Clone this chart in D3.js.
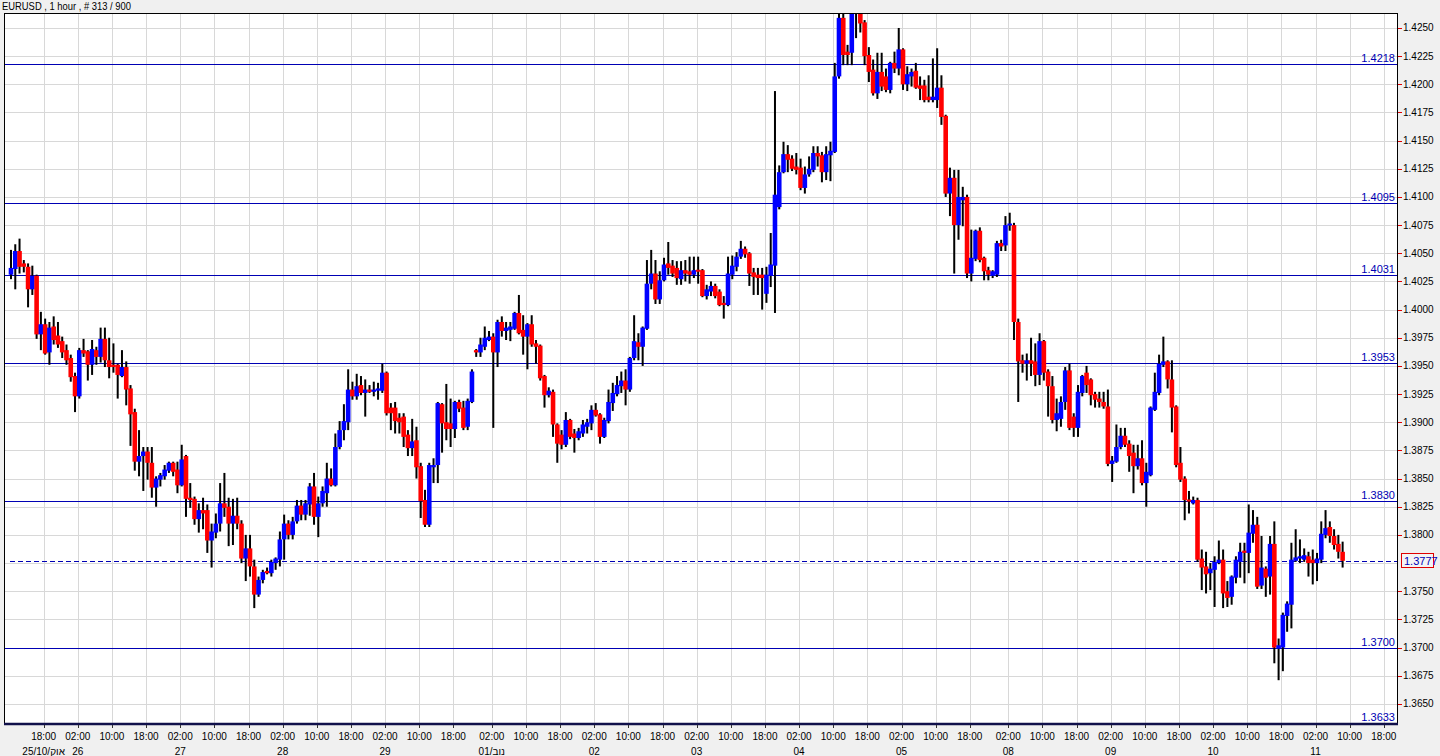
<!DOCTYPE html>
<html><head><meta charset="utf-8">
<script src="https://cdn.jsdelivr.net/npm/d3@7"></script>
<style>body{margin:0;background:#f0f0f0;overflow:hidden}svg{display:block}</style>
</head><body><svg id="c" width="1440" height="756"></svg>
<script>
// ---- DATA (hourly bars, EURUSD) ----
const opens=[1.4031,1.4036,1.4052,1.4041,1.4038,1.4018,1.4030,1.3978,1.3987,1.3962,1.3985,1.3977,1.3972,1.3964,1.3957,1.3941,1.3923,1.3964,1.3963,1.3951,1.3964,1.3958,1.3974,1.3955,1.3951,1.3951,1.3941,1.3949,1.3930,1.3909,1.3865,1.3870,1.3874,1.3864,1.3842,1.3849,1.3852,1.3857,1.3864,1.3858,1.3844,1.3870,1.3833,1.3832,1.3814,1.3822,1.3822,1.3795,1.3802,1.3810,1.3828,1.3825,1.3810,1.3817,1.3810,1.3779,1.3788,1.3772,1.3747,1.3760,1.3768,1.3766,1.3775,1.3778,1.3796,1.3810,1.3800,1.3812,1.3826,1.3818,1.3827,1.3843,1.3816,1.3828,1.3837,1.3850,1.3844,1.3878,1.3893,1.3900,1.3929,1.3923,1.3933,1.3926,1.3929,1.3927,1.3928,1.3928,1.3944,1.3913,1.3913,1.3904,1.3905,1.3889,1.3877,1.3884,1.3861,1.3831,1.3809,1.3860,1.3862,1.3916,1.3900,1.3899,1.3894,1.3918,1.3913,1.3896,1.3918,1.3964,1.3962,1.3967,1.3973,1.3976,1.3962,1.3989,1.3981,1.3982,1.3983,1.3997,1.3982,1.3976,1.3987,1.3970,1.3968,1.3941,1.3924,1.3927,1.3898,1.3889,1.3880,1.3902,1.3890,1.3886,1.3890,1.3896,1.3899,1.3911,1.3907,1.3887,1.3901,1.3917,1.3925,1.3932,1.3937,1.3929,1.3957,1.3971,1.3967,1.3983,1.4023,1.4032,1.4009,1.4026,1.4041,1.4039,1.4037,1.4027,1.4035,1.4034,1.4031,1.4035,1.4035,1.4012,1.4016,1.4021,1.4016,1.4006,1.4004,1.4031,1.4038,1.4047,1.4054,1.4050,1.4033,1.4031,1.4031,1.4014,1.4030,1.4039,1.4091,1.4122,1.4138,1.4134,1.4127,1.4126,1.4108,1.4120,1.4124,1.4139,1.4137,1.4122,1.4137,1.4140,1.4207,1.4259,1.4229,1.4228,1.4270,1.4274,1.4255,1.4226,1.4213,1.4192,1.4211,1.4207,1.4195,1.4219,1.4214,1.4231,1.4200,1.4207,1.4212,1.4199,1.4199,1.4189,1.4186,1.4186,1.4197,1.4172,1.4103,1.4117,1.4075,1.4097,1.4100,1.4032,1.4045,1.4070,1.4046,1.4035,1.4030,1.4031,1.4059,1.4057,1.4075,1.4075,1.3989,1.3955,1.3952,1.3955,1.3954,1.3942,1.3972,1.3945,1.3932,1.3902,1.3903,1.3918,1.3946,1.3905,1.3895,1.3926,1.3944,1.3938,1.3925,1.3921,1.3918,1.3914,1.3863,1.3865,1.3878,1.3888,1.3881,1.3873,1.3861,1.3868,1.3846,1.3853,1.3911,1.3926,1.3951,1.3954,1.3938,1.3914,1.3864,1.3850,1.3831,1.3828,1.3831,1.3779,1.3772,1.3766,1.3769,1.3775,1.3778,1.3750,1.3745,1.3762,1.3776,1.3786,1.3784,1.3801,1.3809,1.3755,1.3770,1.3763,1.3792,1.3699,1.3700,1.3728,1.3738,1.3777,1.3779,1.3778,1.3781,1.3778,1.3775,1.3778,1.3800,1.3807,1.3799,1.3792,1.3785];
const highs=[1.4053,1.4058,1.4063,1.4044,1.4041,1.4039,1.4031,1.3998,1.3992,1.3989,1.3994,1.3989,1.3976,1.3969,1.3960,1.3944,1.3966,1.3974,1.3964,1.3973,1.3967,1.3984,1.3984,1.3975,1.3970,1.3952,1.3964,1.3954,1.3933,1.3912,1.3893,1.3878,1.3878,1.3878,1.3852,1.3855,1.3862,1.3865,1.3865,1.3865,1.3880,1.3871,1.3846,1.3834,1.3828,1.3833,1.3827,1.3810,1.3819,1.3846,1.3855,1.3833,1.3832,1.3833,1.3813,1.3800,1.3800,1.3778,1.3763,1.3769,1.3771,1.3778,1.3780,1.3803,1.3818,1.3813,1.3816,1.3831,1.3831,1.3831,1.3846,1.3855,1.3834,1.3843,1.3864,1.3859,1.3890,1.3901,1.3916,1.3947,1.3936,1.3943,1.3941,1.3938,1.3933,1.3936,1.3935,1.3952,1.3945,1.3917,1.3918,1.3908,1.3908,1.3893,1.3903,1.3896,1.3864,1.3840,1.3864,1.3868,1.3918,1.3917,1.3934,1.3921,1.3919,1.3920,1.3919,1.3921,1.3947,1.3965,1.3975,1.3985,1.3981,1.3979,1.3991,1.3994,1.3989,1.3989,1.3998,1.4013,1.3995,1.3988,1.3995,1.3973,1.3969,1.3942,1.3931,1.3929,1.3899,1.3893,1.3909,1.3903,1.3894,1.3895,1.3902,1.3903,1.3915,1.3917,1.3908,1.3904,1.3929,1.3935,1.3941,1.3945,1.3947,1.3958,1.3995,1.3979,1.3985,1.4044,1.4053,1.4044,1.4034,1.4046,1.4060,1.4044,1.4043,1.4043,1.4044,1.4047,1.4047,1.4047,1.4036,1.4022,1.4025,1.4023,1.4018,1.4012,1.4047,1.4048,1.4051,1.4061,1.4056,1.4051,1.4037,1.4037,1.4037,1.4038,1.4068,1.4194,1.4128,1.4149,1.4146,1.4137,1.4139,1.4134,1.4127,1.4136,1.4145,1.4145,1.4140,1.4145,1.4149,1.4219,1.4270,1.4268,1.4235,1.4281,1.4282,1.4280,1.4257,1.4233,1.4222,1.4228,1.4228,1.4214,1.4220,1.4229,1.4250,1.4232,1.4216,1.4214,1.4219,1.4207,1.4204,1.4208,1.4223,1.4232,1.4208,1.4173,1.4126,1.4124,1.4124,1.4109,1.4102,1.4071,1.4071,1.4073,1.4047,1.4038,1.4035,1.4061,1.4062,1.4083,1.4086,1.4077,1.3992,1.3960,1.3961,1.3975,1.3970,1.3979,1.3973,1.3947,1.3941,1.3921,1.3923,1.3949,1.3952,1.3908,1.3933,1.3942,1.3950,1.3939,1.3927,1.3927,1.3927,1.3929,1.3870,1.3898,1.3895,1.3895,1.3884,1.3880,1.3880,1.3884,1.3864,1.3914,1.3944,1.3960,1.3976,1.3955,1.3955,1.3915,1.3878,1.3852,1.3839,1.3834,1.3833,1.3787,1.3785,1.3775,1.3781,1.3795,1.3787,1.3759,1.3764,1.3781,1.3793,1.3793,1.3827,1.3822,1.3816,1.3799,1.3772,1.3799,1.3812,1.3708,1.3731,1.3741,1.3793,1.3805,1.3796,1.3788,1.3785,1.3787,1.3784,1.3812,1.3822,1.3812,1.3805,1.3800,1.3794];
const lows=[1.4027,1.4018,1.4032,1.4033,1.4002,1.4013,1.3974,1.3964,1.3960,1.3951,1.3969,1.3966,1.3957,1.3951,1.3936,1.3909,1.3921,1.3958,1.3937,1.3942,1.3951,1.3953,1.3949,1.3939,1.3944,1.3921,1.3940,1.3915,1.3879,1.3857,1.3852,1.3839,1.3849,1.3833,1.3825,1.3843,1.3849,1.3855,1.3852,1.3837,1.3843,1.3816,1.3824,1.3809,1.3802,1.3805,1.3784,1.3771,1.3797,1.3803,1.3816,1.3790,1.3791,1.3805,1.3775,1.3759,1.3763,1.3735,1.3745,1.3757,1.3765,1.3763,1.3769,1.3772,1.3778,1.3796,1.3796,1.3810,1.3813,1.3813,1.3817,1.3809,1.3798,1.3825,1.3825,1.3843,1.3843,1.3876,1.3884,1.3893,1.3920,1.3920,1.3924,1.3905,1.3926,1.3923,1.3920,1.3926,1.3906,1.3893,1.3890,1.3890,1.3878,1.3870,1.3870,1.3850,1.3815,1.3807,1.3807,1.3846,1.3846,1.3873,1.3884,1.3878,1.3886,1.3909,1.3893,1.3893,1.3917,1.3958,1.3958,1.3964,1.3972,1.3895,1.3949,1.3976,1.3973,1.3972,1.3982,1.3978,1.3960,1.3947,1.3967,1.3952,1.3937,1.3913,1.3922,1.3887,1.3864,1.3876,1.3878,1.3885,1.3873,1.3884,1.3887,1.3890,1.3893,1.3905,1.3881,1.3886,1.3899,1.3910,1.3923,1.3926,1.3915,1.3927,1.3955,1.3955,1.3950,1.3982,1.4018,1.4005,1.4005,1.4025,1.4031,1.4029,1.4022,1.4022,1.4025,1.4023,1.4028,1.4023,1.4011,1.4009,1.4012,1.4010,1.4003,1.3992,1.4003,1.4027,1.4034,1.4045,1.4046,1.4021,1.4013,1.4013,1.4000,1.4006,1.4020,1.3997,1.4089,1.4121,1.4122,1.4123,1.4120,1.4106,1.4103,1.4118,1.4122,1.4127,1.4113,1.4115,1.4114,1.4139,1.4205,1.4217,1.4217,1.4217,1.4241,1.4246,1.4217,1.4202,1.4190,1.4187,1.4194,1.4193,1.4192,1.4210,1.4208,1.4195,1.4194,1.4198,1.4196,1.4186,1.4184,1.4184,1.4184,1.4179,1.4164,1.4100,1.4083,1.4032,1.4062,1.4074,1.4028,1.4025,1.4043,1.4042,1.4026,1.4026,1.4028,1.4029,1.4052,1.4052,1.4070,1.3973,1.3918,1.3944,1.3937,1.3941,1.3932,1.3933,1.3937,1.3905,1.3899,1.3892,1.3896,1.3911,1.3893,1.3887,1.3887,1.3923,1.3926,1.3915,1.3913,1.3913,1.3912,1.3861,1.3847,1.3864,1.3876,1.3878,1.3856,1.3837,1.3858,1.3844,1.3825,1.3852,1.3910,1.3924,1.3949,1.3930,1.3891,1.3860,1.3847,1.3813,1.3819,1.3827,1.3776,1.3751,1.3748,1.3751,1.3736,1.3774,1.3735,1.3736,1.3738,1.3757,1.3762,1.3757,1.3766,1.3793,1.3752,1.3752,1.3745,1.3747,1.3686,1.3671,1.3679,1.3714,1.3717,1.3776,1.3775,1.3776,1.3763,1.3756,1.3759,1.3775,1.3797,1.3793,1.3787,1.3779,1.3771];
const closes=[1.4037,1.4052,1.4038,1.4038,1.4018,1.4030,1.3978,1.3987,1.3961,1.3984,1.3973,1.3969,1.3962,1.3955,1.3940,1.3923,1.3964,1.3961,1.3951,1.3965,1.3958,1.3974,1.3955,1.3949,1.3949,1.3942,1.3949,1.3929,1.3907,1.3865,1.3870,1.3874,1.3864,1.3842,1.3850,1.3853,1.3858,1.3864,1.3856,1.3844,1.3867,1.3832,1.3831,1.3814,1.3822,1.3819,1.3795,1.3803,1.3810,1.3828,1.3824,1.3810,1.3817,1.3810,1.3779,1.3788,1.3772,1.3747,1.3760,1.3767,1.3766,1.3776,1.3779,1.3796,1.3810,1.3800,1.3812,1.3826,1.3818,1.3828,1.3843,1.3816,1.3828,1.3839,1.3850,1.3844,1.3878,1.3893,1.3901,1.3929,1.3923,1.3932,1.3926,1.3929,1.3927,1.3929,1.3930,1.3944,1.3908,1.3908,1.3901,1.3900,1.3887,1.3877,1.3883,1.3860,1.3830,1.3809,1.3862,1.3862,1.3917,1.3899,1.3894,1.3894,1.3918,1.3912,1.3895,1.3919,1.3945,1.3962,1.3969,1.3975,1.3976,1.3962,1.3989,1.3981,1.3984,1.3985,1.3997,1.3979,1.3976,1.3987,1.3969,1.3967,1.3939,1.3924,1.3928,1.3898,1.3881,1.3880,1.3902,1.3887,1.3886,1.3892,1.3898,1.3900,1.3911,1.3906,1.3887,1.3902,1.3918,1.3926,1.3933,1.3937,1.3929,1.3957,1.3972,1.3967,1.3984,1.4023,1.4032,1.4009,1.4026,1.4040,1.4037,1.4032,1.4028,1.4035,1.4032,1.4031,1.4035,1.4034,1.4012,1.4018,1.4021,1.4012,1.4004,1.4004,1.4032,1.4039,1.4047,1.4054,1.4049,1.4032,1.4029,1.4028,1.4028,1.4031,1.4040,1.4102,1.4122,1.4138,1.4133,1.4125,1.4124,1.4108,1.4120,1.4125,1.4139,1.4136,1.4122,1.4138,1.4141,1.4207,1.4259,1.4226,1.4226,1.4270,1.4274,1.4254,1.4225,1.4211,1.4192,1.4211,1.4198,1.4195,1.4219,1.4214,1.4231,1.4200,1.4209,1.4211,1.4197,1.4196,1.4186,1.4186,1.4189,1.4197,1.4171,1.4103,1.4117,1.4075,1.4100,1.4100,1.4032,1.4046,1.4070,1.4044,1.4034,1.4031,1.4034,1.4059,1.4056,1.4075,1.4076,1.3989,1.3954,1.3952,1.3955,1.3952,1.3942,1.3972,1.3944,1.3932,1.3902,1.3908,1.3918,1.3946,1.3895,1.3895,1.3927,1.3941,1.3933,1.3924,1.3920,1.3918,1.3914,1.3863,1.3866,1.3878,1.3888,1.3880,1.3870,1.3861,1.3868,1.3846,1.3856,1.3913,1.3927,1.3952,1.3954,1.3938,1.3913,1.3862,1.3849,1.3831,1.3830,1.3831,1.3778,1.3771,1.3765,1.3770,1.3776,1.3778,1.3748,1.3744,1.3763,1.3778,1.3785,1.3784,1.3802,1.3809,1.3754,1.3771,1.3762,1.3792,1.3700,1.3702,1.3729,1.3739,1.3778,1.3780,1.3781,1.3782,1.3775,1.3775,1.3779,1.3801,1.3806,1.3799,1.3791,1.3785,1.3777];
const levels=[1.4218,1.4095,1.4031,1.3953,1.3830,1.3700,1.3633];
const lastPrice=1.3777;
const priceTicks=[1.3650,1.3675,1.3700,1.3725,1.3750,1.3775,1.3800,1.3825,1.3850,1.3875,1.3900,1.3925,1.3950,1.3975,1.4000,1.4025,1.4050,1.4075,1.4100,1.4125,1.4150,1.4175,1.4200,1.4225,1.4250];
const timeSlots=[8,16,24,32,40,48,56,64,72,80,88,96,104,113,121,129,137,145,153,161,169,177,185,193,201,209,217,225,234,242,250,258,266,274,282,290,298,306,314,322];
const timeLabels=["18:00","02:00","10:00","18:00","02:00","10:00","18:00","02:00","10:00","18:00","02:00","10:00","18:00","02:00","10:00","18:00","02:00","10:00","18:00","02:00","10:00","18:00","02:00","10:00","18:00","02:00","10:00","18:00","02:00","10:00","18:00","02:00","10:00","18:00","02:00","10:00","18:00","02:00","10:00","18:00"];
const daySlots=[8,16,40,64,88,113,137,161,185,209,234,258,282,306];
const dayLabels=["25/10/\u200Eאוק","26","27","28","29","01/\u200Eנוב","02","03","04","05","08","09","10","11"];
const title="EURUSD , 1 hour , # 313 / 900";

// ---- LAYOUT ----
const L=4,R=1397,T=13,B=723;
const svg=d3.select("#c");
const font="Liberation Sans, Arial, sans-serif";
const x=d3.scaleLinear().domain([0,322]).range([9.5,1383.8]);
const y=d3.scaleLinear().domain([1.3633,1.42633]).range([B,T]);
const navy="#0000b4";

svg.append("rect").attr("width",1440).attr("height",756).attr("fill","#f0f0f0");
svg.append("rect").attr("x",L).attr("y",T).attr("width",R-L).attr("height",B-T).attr("fill","#fff");

// grid
const g=svg.append("g").attr("stroke","#d8d8d8").attr("stroke-width",1).attr("shape-rendering","crispEdges");
g.selectAll("line.v").data(timeSlots).join("line").attr("class","v")
 .attr("x1",d=>Math.round(x(d))+0.5).attr("x2",d=>Math.round(x(d))+0.5).attr("y1",T).attr("y2",B);
g.selectAll("line.h").data(priceTicks).join("line").attr("class","h")
 .attr("y1",d=>Math.round(y(d))+0.5).attr("y2",d=>Math.round(y(d))+0.5).attr("x1",L).attr("x2",R);

// clip
svg.append("clipPath").attr("id","plot").append("rect").attr("x",L+1).attr("y",T+1).attr("width",R-L-1).attr("height",B-T-1);
const cg=svg.append("g").attr("clip-path","url(#plot)");

// levels
const lvG=cg.append("g").attr("shape-rendering","crispEdges");
lvG.selectAll("line").data(levels).join("line")
 .attr("x1",L).attr("x2",R).attr("y1",d=>Math.round(y(d))+0.5).attr("y2",d=>Math.round(y(d))+0.5)
 .attr("stroke",navy).attr("stroke-width",1);
lvG.append("line").attr("x1",10).attr("x2",R).attr("y1",Math.round(y(lastPrice))+0.5).attr("y2",Math.round(y(lastPrice))+0.5)
 .attr("stroke",navy).attr("stroke-width",1).attr("stroke-dasharray","5,3");

// candles
const idx=d3.range(closes.length);
const off=1.5, bw=4.6;
cg.selectAll("rect.w").data(idx).join("rect").attr("class","w")
 .attr("x",i=>x(i)+off-1).attr("width",2)
 .attr("y",i=>y(highs[i])).attr("height",i=>Math.max(1,y(lows[i])-y(highs[i])))
 .attr("fill","#000");
cg.selectAll("rect.b").data(idx).join("rect").attr("class","b")
 .attr("x",i=>x(i)+off-bw/2).attr("width",bw)
 .attr("y",i=>{const t=y(Math.max(opens[i],closes[i])),h=y(Math.min(opens[i],closes[i]))-t;return h<2?t-(2-h)/2:t;})
 .attr("height",i=>Math.max(2,y(Math.min(opens[i],closes[i]))-y(Math.max(opens[i],closes[i]))))
 .attr("fill",i=>closes[i]>=opens[i]?"#0000ff":"#ff0000");

// level labels
svg.selectAll("text.lv").data(levels).join("text").attr("class","lv")
 .attr("x",R-2).attr("y",d=>Math.round(y(d))-2).attr("text-anchor","end")
 .attr("font-family",font).attr("font-size",11).attr("fill",navy).text(d=>d.toFixed(4));

// border
svg.append("rect").attr("x",L+0.5).attr("y",T+0.5).attr("width",R-L).attr("height",B-T).attr("fill","none").attr("stroke","#000").attr("shape-rendering","crispEdges");
svg.append("line").attr("x1",L).attr("x2",R+1).attr("y1",B+1).attr("y2",B+1).attr("stroke","#10104a").attr("stroke-width",2.5);

// right axis (labels hidden where the last-price box sits)
const ly=Math.round(y(lastPrice));
const shown=priceTicks.filter(d=>Math.abs(y(d)-ly)>9);
const ra=svg.append("g");
ra.selectAll("line").data(shown).join("line")
 .attr("x1",R+1).attr("x2",R+5).attr("y1",d=>Math.round(y(d))+0.5).attr("y2",d=>Math.round(y(d))+0.5)
 .attr("stroke","#e00000");
ra.selectAll("text").data(shown).join("text")
 .attr("x",R+6).attr("y",d=>y(d)+3.5).attr("font-family",font).attr("font-size",10).attr("fill","#000")
 .text(d=>d.toFixed(4));

// last price box
svg.append("rect").attr("x",R+4.5).attr("y",ly-7.5).attr("width",32).attr("height",14).attr("fill","#f4f4f4").attr("stroke","#e00000");
svg.append("text").attr("x",R+7).attr("y",ly+4).attr("font-family",font).attr("font-size",11).attr("fill",navy).text(lastPrice.toFixed(4));

// bottom axis
const ba=svg.append("g");
ba.selectAll("line").data(timeSlots).join("line")
 .attr("x1",d=>Math.round(x(d))+0.5).attr("x2",d=>Math.round(x(d))+0.5).attr("y1",B+2).attr("y2",B+5).attr("stroke","#333");
ba.selectAll("text.t").data(timeSlots).join("text").attr("class","t")
 .attr("x",d=>x(d)).attr("y",740).attr("text-anchor","middle").attr("font-family",font).attr("font-size",10).attr("fill","#000")
 .text((d,i)=>timeLabels[i]);
ba.selectAll("text.d").data(daySlots).join("text").attr("class","d")
 .attr("x",d=>x(d)).attr("y",755).attr("text-anchor","middle").attr("font-family",font).attr("font-size",10).attr("fill","#000")
 .text((d,i)=>dayLabels[i]);

// title
svg.append("text").attr("x",2).attr("y",10).attr("font-family",font).attr("font-size",10.5).attr("fill","#000")
 .attr("textLength",129).attr("lengthAdjust","spacingAndGlyphs").text(title);
</script></body></html>
